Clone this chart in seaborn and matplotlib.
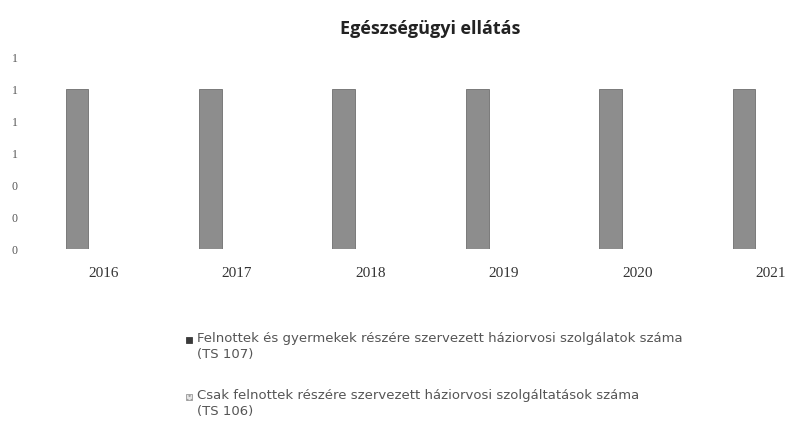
"""Egészségügyi ellátás - háziorvosi szolgálatok száma (bar chart)."""

import matplotlib.pyplot as plt
import pandas as pd
import seaborn as sns
from matplotlib.patches import Rectangle
from matplotlib.ticker import FuncFormatter


sns.set_theme(style="white")
plt.rcParams["font.family"] = ["DejaVu Sans"]

# Data
years = ["2016", "2017", "2018", "2019", "2020", "2021"]
felnott_es_gyermek = [1, 1, 1, 1, 1, 1]
csak_felnott = [0, 0, 0, 0, 0, 0]
series_labels = [
    "Felnottek és gyermekek részére szervezett háziorvosi szolgálatok száma\n(TS 107)",
    "Csak felnottek részére szervezett háziorvosi szolgáltatások száma\n(TS 106)",
]
y_ticks = [0, 0.2, 0.4, 0.6, 0.8, 1.0, 1.2]

bar_color = "#8d8d8d"
light_color = "#dcdcdc"


def main() -> None:
    df = pd.DataFrame(
        {
            "year": years * 2,
            "value": felnott_es_gyermek + csak_felnott,
            "series": [series_labels[0]] * len(years) + [series_labels[1]] * len(years),
        }
    )

    fig = plt.figure(figsize=(7.92, 4.23), dpi=100)
    ax = fig.add_axes([37 / 792, 174 / 423, 755 / 792, 192 / 423])

    sns.barplot(
        data=df,
        x="year",
        y="value",
        hue="series",
        palette=[bar_color, light_color],
        width=0.8,
        gap=0.57,
        edgecolor="#6e6e6e",
        linewidth=0.6,
        legend=False,
        ax=ax,
    )

    ax.set_xlim(-0.5, 5.16)
    ax.set_ylim(0, 1.2)
    ax.set_yticks(y_ticks)
    ax.yaxis.set_major_formatter(FuncFormatter(lambda v, _: f"{v:.0f}"))
    ax.set_xlabel("")
    ax.set_ylabel("")
    sns.despine(ax=ax, left=True, bottom=True)
    ax.tick_params(axis="y", length=0, pad=14, labelsize=8.5, labelcolor="#555555")
    ax.tick_params(axis="x", length=0, pad=13, labelsize=11, labelcolor="#333333")
    for label in ax.get_xticklabels() + ax.get_yticklabels():
        label.set_fontfamily("Liberation Serif")

    fig.text(
        430 / 792,
        1 - 29 / 423,
        "Egészségügyi ellátás",
        ha="center",
        va="center",
        fontsize=13,
        fontweight="bold",
        color="#222222",
        family="Open Sans",
    )

    # Legend below the plot, marker aligned with the first text line
    legend_styles = [
        dict(facecolor="#3a3a3a", edgecolor="#3a3a3a"),
        dict(facecolor="#e6e6e6", edgecolor="#9a9a9a", hatch="...."),
    ]
    legend_rows = [340, 397]
    for label, style, row in zip(series_labels, legend_styles, legend_rows):
        fig.patches.append(
            Rectangle(
                (186 / 792, 1 - (row + 3) / 423),
                6 / 792,
                6 / 423,
                transform=fig.transFigure,
                figure=fig,
                linewidth=0.6,
                **style,
            )
        )
        fig.text(
            197 / 792,
            1 - (row - 8) / 423,
            label,
            ha="left",
            va="top",
            fontsize=9.5,
            color="#555555",
            linespacing=1.25,
        )

    fig.savefig("out.png", dpi=100, facecolor="white")


if __name__ == "__main__":
    main()
